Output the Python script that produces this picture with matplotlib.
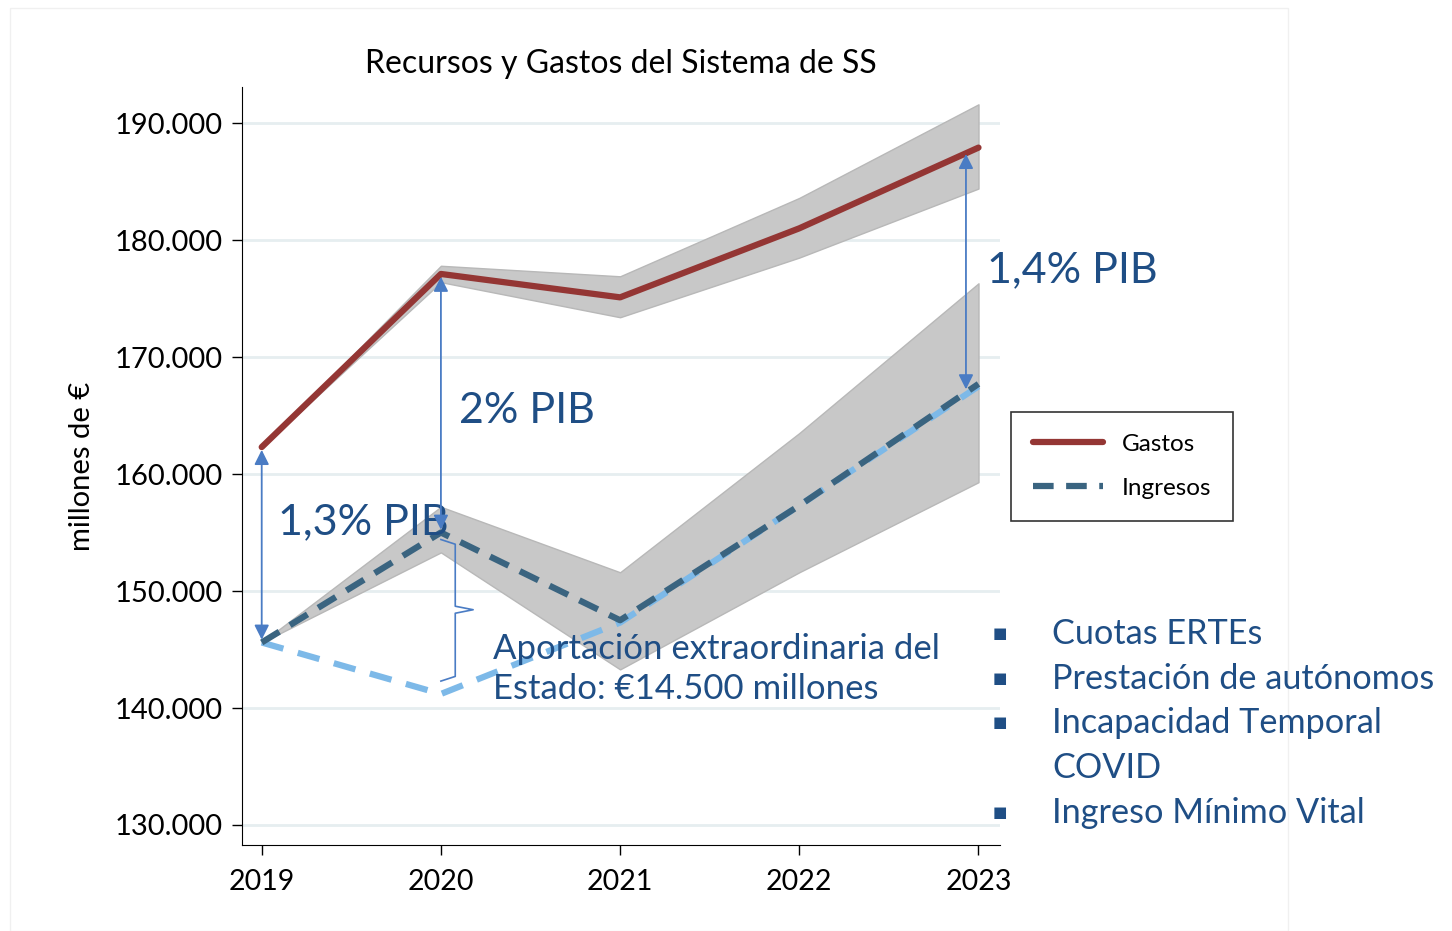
import matplotlib.pyplot as plt
from matplotlib.ticker import FuncFormatter
from matplotlib.patches import Rectangle

plt.rcParams['font.family'] = ['Lato', 'DejaVu Sans']

# datos (millones de euros)
years = [2019, 2020, 2021, 2022, 2023]
gastos = [162300, 177100, 175100, 181000, 187900]
gastos_hi = [162300, 177800, 176900, 183600, 191600]
gastos_lo = [162300, 176400, 173400, 178500, 184400]
ingresos = [145600, 155000, 147500, 157300, 167700]
ingresos_hi = [145600, 157200, 151600, 163500, 176300]
ingresos_lo = [145600, 153300, 143300, 151600, 159300]
sin_aportacion = [145600, 141200, 147300, 157300, 167500]
yticks = [130000, 140000, 150000, 160000, 170000, 180000, 190000]
bullets = ['Cuotas ERTEs', 'Prestación de autónomos', 'Incapacidad Temporal\nCOVID', 'Ingreso Mínimo Vital']

azul = '#1F4E85'
flecha = '#4A7CC4'

fig = plt.figure(figsize=(14.52, 9.31), dpi=100)
fig.patches.append(Rectangle((10 / 1452, 0), 1278 / 1452, 923 / 931, transform=fig.transFigure,
                             fill=False, edgecolor='#F0F0F0', lw=1))
ax = fig.add_axes([242 / 1452, 86 / 931, 758 / 1452, 758 / 931])

for y in yticks:
    ax.axhline(y, color='#E6EEF0', lw=2, zorder=0)

ax.fill_between(years, gastos_lo, gastos_hi, facecolor='#C8C8C8', edgecolor='#B8B8B8', lw=1, zorder=1)
ax.fill_between(years, ingresos_lo, ingresos_hi, facecolor='#C8C8C8', edgecolor='#B8B8B8', lw=1, zorder=1)
ax.plot(years, sin_aportacion, color='#7DB9E8', lw=4.5, dashes=(3.6, 2.4), zorder=2)
ax.plot(years, gastos, color='#943634', lw=4.5, solid_capstyle='round', label='Gastos', zorder=3)
ax.plot(years, ingresos, color='#3A6480', lw=4.5, dashes=(3.3, 2.0), label='Ingresos', zorder=3)

# flechas PIB
for x, y0, y1 in [(2019, gastos[0], ingresos[0]), (2020, gastos[1], ingresos[1]), (2022.93, 187600, 167000)]:
    ax.annotate('', xy=(x, y1), xytext=(x, y0),
                arrowprops=dict(arrowstyle='<|-|>', color=flecha, lw=1.3, mutation_scale=22), zorder=4)

ax.text(2020.1, 165400, '2% PIB', color=azul, fontsize=31, va='center', ha='left')
ax.text(2019.09, 155900, '1,3% PIB', color=azul, fontsize=31, va='center', ha='left')
ax.text(2023.05, 177400, '1,4% PIB', color=azul, fontsize=31, va='center', ha='left')

# llave
bx, btop, bbot, bmid = 2020.08, 154300, 142400, 148400
ax.plot([2020.0, bx, bx, 2020.18, bx, bx, 2020.0],
        [btop + 100, btop - 300, bmid + 300, bmid, bmid - 300, bbot + 300, bbot - 100],
        color=flecha, lw=1.2, zorder=4)
ax.text(2020.29, 143300, 'Aportación extraordinaria del\nEstado: €14.500 millones', color=azul,
        fontsize=25, va='center', ha='left', linespacing=1.3, zorder=5)

ax.set_xlim(2018.89, 2023.12)
ax.set_ylim(128290, 193080)
ax.set_xticks(years)
ax.set_yticks(yticks)
ax.yaxis.set_major_formatter(FuncFormatter(lambda v, p: f'{int(v):,}'.replace(',', '.')))
ax.tick_params(labelsize=21, length=7, width=1, color='black', pad=7)
ax.tick_params(axis='x', labelsize=20.5, pad=10)
ax.spines['top'].set_visible(False)
ax.spines['right'].set_visible(False)
ax.set_ylabel('millones de €', fontsize=21, labelpad=14)
ax.set_title('Recursos y Gastos del Sistema de SS', fontsize=23, pad=10)

leg = fig.legend(loc='upper left', bbox_to_anchor=(1011 / 1452, 519 / 931), fontsize=17.5,
                 fancybox=False, edgecolor='black', handlelength=2.9, labelspacing=0.95,
                 borderpad=0.9, handletextpad=0.75, borderaxespad=0)
leg.get_frame().set_linewidth(1.2)

# lista de medidas
ys = [634, 679, 723, 813]
for y, t in zip(ys, bullets):
    fig.text(993 / 1452, 1 - y / 931, '\u25A0', color=azul, fontsize=11, va='center')
    for i, linea in enumerate(t.split('\n')):
        fig.text(1052 / 1452, 1 - (y + 45 * i) / 931, linea, color=azul, fontsize=24.7, va='center')

fig.savefig('out.png', dpi=100)
